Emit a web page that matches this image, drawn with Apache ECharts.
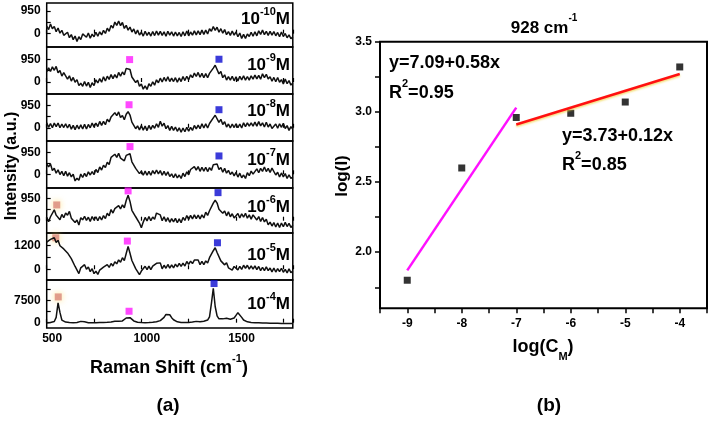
<!DOCTYPE html>
<html><head><meta charset="utf-8">
<script src="https://cdn.jsdelivr.net/npm/echarts@6/dist/echarts.min.js"></script>
<style>html,body{margin:0;padding:0;background:#fff}#c{width:709px;height:421px}</style>
</head><body><div id="c"></div>
<script>
// ---------- Panel (a): Raman spectra, sampled every 10 cm-1 from 500 to 1800 ----------
const ramanStart = 500, ramanStep = 10;
const concExps = ['-10', '-9', '-8', '-7', '-6', '-5', '-4'];

const spec_10 = [
 320,170,410,210,300,80,240,20,140,-70,
 -60,60,-170,-40,-250,-100,-330,-130,-250,-10,
 10,-150,30,-190,-20,-130,60,-110,80,-50,
 140,10,230,100,350,240,490,350,530,340,
 470,220,350,150,280,70,200,-10,150,-60,
 60,-100,100,-70,60,-100,90,-80,110,-60,
 100,-70,80,-110,100,-60,80,-100,70,-90,
 50,-120,80,-90,110,-90,70,-60,120,-50,
 120,-40,150,-30,150,-10,210,100,300,140,
 270,60,210,20,170,-40,90,-70,110,-60,
 70,-130,30,-200,-30,-200,-10,-120,60,-110,
 80,-90,120,-30,150,-40,100,-70,100,-60,
 90,-90,50,-130,70,-120,10,-170,-50,-210,
 -130];
const spec_9 = [
 430,590,440,630,490,650,390,480,250,390,
 340,120,260,40,190,-10,100,-150,-50,-180,
 20,-170,-10,-230,-30,-150,90,-40,140,-10,
 220,40,240,110,310,140,310,170,400,240,
 420,300,570,640,520,210,260,-20,70,-180,
 -80,-300,-160,-310,-70,-180,10,-130,90,-30,
 160,0,190,30,220,20,160,20,180,-10,
 170,20,230,60,240,90,300,180,370,230,
 400,200,360,180,350,180,360,290,580,700,
 630,340,440,180,300,80,220,80,240,50,
 220,40,240,90,260,80,230,80,260,120,
 290,130,280,120,340,180,320,130,220,30,
 190,10,190,-10,100,-80,120,-70,60,-130,
 -40];
const spec_8 = [
 210,20,180,0,200,50,200,0,160,10,
 170,-10,150,-60,100,-80,110,-50,120,-50,
 150,-50,140,0,200,30,200,50,270,100,
 270,130,360,250,460,380,640,510,670,430,
 520,340,570,680,540,240,230,-40,80,-90,
 90,-100,70,-120,100,-70,100,-20,170,20,
 280,70,190,-40,90,-110,60,-110,30,-150,
 0,-190,-10,-170,20,-140,20,-110,100,-50,
 110,-40,170,-10,170,-10,180,110,420,530,
 510,230,360,140,260,30,160,-10,160,10,
 170,0,160,-10,210,50,210,70,210,70,
 240,70,260,80,210,30,230,30,160,-30,
 0,160,-20,170,20,190,-30,90,-110,50,
 -60];
const spec_7 = [
 460,330,450,170,270,50,200,-10,130,-60,
 130,-80,70,-110,0,-290,-170,-260,10,-140,
 40,-100,110,-30,120,-10,210,80,320,190,
 400,300,530,430,740,680,880,740,920,710,
 790,590,830,880,900,550,530,260,310,30,
 140,-40,140,-40,130,-40,160,20,190,20,
 160,-40,130,-50,110,-100,20,-150,20,-160,
 -30,-180,50,-100,110,-20,210,130,340,180,
 340,130,310,140,310,120,290,170,420,450,
 450,210,300,90,260,50,170,-10,100,-70,
 80,-120,50,-150,-30,-180,70,-60,140,10,
 70,240,70,260,130,320,120,260,80,270,
 210,-30,90,-120,60,-110,30,-180,-20,-180,
 -120];
const spec_6 = [
 150,-40,170,140,470,240,240,40,270,130,
 330,240,400,110,140,-80,30,-190,130,40,
 190,10,150,-30,180,20,170,0,180,30,
 220,90,320,210,480,330,520,440,650,510,
 680,560,870,1100,830,450,460,170,200,-100,
 -300,-60,140,-10,180,0,160,60,330,360,
 250,0,170,-30,130,-70,90,-50,100,-90,
 80,-90,140,10,220,60,230,80,250,90,
 240,80,250,120,370,230,430,410,760,880,
 760,490,570,320,420,210,380,170,300,120,
 160,310,120,300,150,320,110,250,70,250,
 230,30,180,-30,140,-50,60,-180,-60,-230,
 -80,-270,-100,-290,-100,-260,-70,-250,-110,-290,
 -200];
const spec_5 = [
 1360,1260,1500,1410,1580,1340,1450,1180,1270,1020,
 1080,820,870,530,520,140,40,-220,70,-30,
 230,0,110,-120,30,-220,-100,-260,-40,-140,
 110,10,230,90,290,160,380,270,470,350,
 580,430,790,1150,800,440,380,30,40,-270,
 -90,-90,150,-20,160,-20,160,60,300,400,
 320,20,200,50,240,60,220,70,260,120,
 290,140,310,160,390,240,410,280,460,360,
 460,230,400,230,420,310,580,560,930,1080,
 840,790,420,470,220,330,70,170,-40,140,
 140,-30,150,-10,200,50,200,10,170,10,
 170,-20,140,-70,100,-70,120,-70,60,-130,
 60,-140,30,-120,50,-150,-10,-180,20,-170,
 -90];
const spec_4 = [
 -100,-50,50,150,400,1800,6700,3500,900,400,
 200,100,50,0,0,50,100,200,450,650,
 300,100,0,-50,-50,0,0,50,50,100,
 100,150,150,200,250,350,500,650,500,400,
 600,1000,1600,1900,1700,1100,600,300,150,100,
 50,0,0,50,50,100,150,200,300,450,
 700,1100,1800,2800,3400,2700,1700,1000,550,300,
 150,100,50,50,50,100,150,200,300,450,
 300,350,400,500,650,900,2000,6500,11700,5500,
 2300,1300,1100,1300,1550,1500,1300,1200,1300,1600,
 2500,3400,2900,1800,900,500,300,150,100,50,
 0,0,-50,-50,-100,-100,-100,-150,-150,-150,
 -150,-200,-200,-200,-250,-250,-250,-300,-300,-300,
 -300];
const spectra = [spec_10, spec_9, spec_8, spec_7, spec_6, spec_5, spec_4];

// peak markers per panel: [Raman shift, intensity]
const tanMarks  = [null, null, null, null, [553, 680], [548, 1580], [561, 8760]];
const pinkMarks = [null, [938, 935], [935, 975], [940, 1215], [930, 1285], [926, 1415], [935, 3890]];
const blueMarks = [null, [1410, 950], [1410, 765], [1410, 805], [1405, 1210], [1402, 1330], [1384, 13300]];

// y-axis ranges and tick labels per panel
const yMins = [-560, -500, -560, -600, -530, -540, -1800];
const yMaxs = [1290, 1460, 1430, 1460, 1410, 1820, 14500];
const yLabelVals = [[0,950],[0,950],[0,950],[0,950],[0,950],[0,1200],[0,7500]];
const yTickVals = [[0,475,950],[0,475,950],[0,475,950],[0,475,950],[0,475,950],[0,600,1200],[0,3750,7500,11250]];
const xLabelVals = [500, 1000, 1500];

// ---------- Panel (b): log-log fit at 928 cm-1 ----------
const logC = [-9, -8, -7, -6, -5, -4];
const logI = [1.80, 2.60, 2.96, 2.99, 3.07, 3.32];
const fitLowX = [-9, -7], fitLowY = [1.87, 3.03];
const fitHighX = [-7, -4], fitHighY = [2.91, 3.27];
const bXLabels = [-9, -8, -7, -6, -5, -4];
const bXTicks = [-9.5,-9,-8.5,-8,-7.5,-7,-6.5,-6,-5.5,-5,-4.5,-4,-3.5];
const bYLabels = [2.0, 2.5, 3.0, 3.5];
const bYTicks = [1.75, 2.0, 2.25, 2.5, 2.75, 3.0, 3.25, 3.5];

// ---------- layout ----------
const FONT = '"Liberation Sans", Arial, sans-serif';
const tops = [3, 47, 94, 141, 188, 233, 280];
const heights = [44, 47, 47, 47, 45, 47, 48];
const labelY = [17, 63, 109, 158, 205, 253, 302];
const plain = v => String(v);

const grid = [], xAxis = [], yAxis = [], series = [], graphic = [];
for (let i = 0; i < 7; i++) {
  grid.push({left: 46.7, width: 246.1, top: tops[i], height: heights[i], show: true,
    borderColor: '#000', borderWidth: 1.5, backgroundColor: 'transparent'});
  xAxis.push({gridIndex: i, type: 'value', min: 500, max: 1800, interval: 250,
    axisLine: {show: false}, splitLine: {show: false},
    axisTick: {show: true, inside: true, length: 4, lineStyle: {color: '#000', width: 1.2}},
    axisLabel: {show: i === 6, customValues: xLabelVals, formatter: plain, margin: 5, padding: [0, 0, 0, 11],
      color: '#000', fontWeight: 'bold', fontSize: 12, fontFamily: FONT}});
  yAxis.push({gridIndex: i, type: 'value', min: yMins[i], max: yMaxs[i],
    axisLine: {show: false}, splitLine: {show: false},
    axisTick: {show: true, inside: true, length: 4, customValues: yTickVals[i], lineStyle: {color: '#000', width: 1.2}},
    axisLabel: {customValues: yLabelVals[i], formatter: plain, margin: 6, color: '#000', fontWeight: 'bold', fontSize: 12, fontFamily: FONT}});
  series.push({type: 'line', xAxisIndex: i, yAxisIndex: i, showSymbol: false, animation: false,
    lineStyle: {color: '#111', width: 1.5},
    data: spectra[i].map((v, k) => [ramanStart + k * ramanStep, v])});
  const marks = [[tanMarks[i], '#d9877a', true], [pinkMarks[i], '#ff1aff', false], [blueMarks[i], '#0a0ad0', false]];
  marks.forEach(([m, col, glow]) => {
    if (!m) return;
    series.push({type: 'scatter', xAxisIndex: i, yAxisIndex: i, symbol: 'rect', symbolSize: 7, animation: false,
      itemStyle: glow ? {color: col, shadowColor: 'rgba(255,215,90,0.9)', shadowBlur: 6} : {color: col},
      data: [m]});
  });
  graphic.push({type: 'text', x: 290, y: labelY[i], style: {
    text: '{a|10}{s|' + concExps[i] + '}{a|M}', align: 'right', verticalAlign: 'middle',
    rich: {a: {fontSize: 17, fontWeight: 'bold', fontFamily: FONT, color: '#000', lineHeight: 22, verticalAlign: 'bottom'},
           s: {fontSize: 11, fontWeight: 'bold', fontFamily: FONT, color: '#000', lineHeight: 22, verticalAlign: 'top'}}}});
}

// panel (b)
grid.push({left: 380, right: 2, top: 41.7, bottom: 112.7, show: true, borderColor: '#000', borderWidth: 2, backgroundColor: 'transparent'});
xAxis.push({gridIndex: 7, type: 'value', min: -9.5, max: -3.5, interval: 0.5,
  axisLine: {show: false}, splitLine: {show: false},
  axisTick: {show: true, inside: false, length: 5, customValues: bXTicks, lineStyle: {color: '#000', width: 1.5}},
  axisLabel: {customValues: bXLabels, margin: 9, color: '#000', fontWeight: 'bold', fontSize: 12, fontFamily: FONT}});
yAxis.push({gridIndex: 7, type: 'value', min: 1.6, max: 3.5,
  axisLine: {show: false}, splitLine: {show: false},
  axisTick: {show: true, inside: false, length: 5, customValues: bYTicks, lineStyle: {color: '#000', width: 1.5}},
  axisLabel: {customValues: bYLabels, margin: 8, color: '#000', fontWeight: 'bold', fontSize: 12, fontFamily: FONT,
    formatter: v => Number(v).toFixed(1)}});
series.push({type: 'line', xAxisIndex: 7, yAxisIndex: 7, showSymbol: false, animation: false,
  lineStyle: {color: '#ff10ff', width: 2.5}, data: fitLowX.map((x, k) => [x, fitLowY[k]])});
series.push({type: 'line', xAxisIndex: 7, yAxisIndex: 7, showSymbol: false, animation: false,
  lineStyle: {color: '#ff1010', width: 2.5, shadowColor: 'rgba(240,210,60,0.7)', shadowBlur: 2, shadowOffsetY: 1.5},
  data: fitHighX.map((x, k) => [x, fitHighY[k]])});
series.push({type: 'scatter', xAxisIndex: 7, yAxisIndex: 7, symbol: 'rect', symbolSize: 7, animation: false,
  itemStyle: {color: '#000'}, data: logC.map((x, k) => [x, logI[k]])});

const t = (x, y, text, size, extra) => Object.assign({type: 'text', x, y, style: Object.assign({
  text, fontSize: size, fontWeight: 'bold', fontFamily: FONT, fill: '#000', align: 'center', verticalAlign: 'middle'}, extra || {})});
const richSup = (size, supSize) => ({
  a: {fontSize: size, fontWeight: 'bold', fontFamily: FONT, color: '#000', lineHeight: size + 6, verticalAlign: 'bottom'},
  s: {fontSize: supSize, fontWeight: 'bold', fontFamily: FONT, color: '#000', lineHeight: size + 6, verticalAlign: 'top'}});
const richSub = (size, subSize) => ({
  a: {fontSize: size, fontWeight: 'bold', fontFamily: FONT, color: '#000', lineHeight: size + 6, verticalAlign: 'top'},
  s: {fontSize: subSize, fontWeight: 'bold', fontFamily: FONT, color: '#000', lineHeight: size + 6, verticalAlign: 'bottom'}});

graphic.push(
  Object.assign(t(12, 166, 'Intensity (a.u.)', 16), {rotation: Math.PI / 2}),
  {type: 'text', x: 169, y: 365, style: {text: '{a|Raman Shift (cm}{s|-1}{a|)}', align: 'center', verticalAlign: 'middle', rich: richSup(18, 11)}},
  t(168, 406, '(a)', 19),
  {type: 'text', x: 544, y: 25, style: {text: '{a|928 cm}{s|-1}', align: 'center', verticalAlign: 'middle', rich: richSup(17, 10)}},
  Object.assign(t(342, 176, 'log(I)', 17), {rotation: Math.PI / 2}),
  {type: 'text', x: 543, y: 350, style: {text: '{a|log(C}{s|M}{a|)}', align: 'center', verticalAlign: 'middle', rich: richSub(18, 11)}},
  t(549, 406, '(b)', 19),
  t(389, 63, 'y=7.09+0.58x', 18, {align: 'left'}),
  {type: 'text', x: 389, y: 90, style: {text: '{a|R}{s|2}{a|=0.95}', align: 'left', verticalAlign: 'middle', rich: richSup(18, 11)}},
  t(562, 136, 'y=3.73+0.12x', 18, {align: 'left'}),
  {type: 'text', x: 562, y: 162, style: {text: '{a|R}{s|2}{a|=0.85}', align: 'left', verticalAlign: 'middle', rich: richSup(18, 11)}}
);

const chart = echarts.init(document.getElementById('c'), null, {renderer: 'canvas'});
chart.setOption({animation: false, backgroundColor: '#fff', textStyle: {fontFamily: FONT},
  grid, xAxis, yAxis, series, graphic});
</script></body></html>
